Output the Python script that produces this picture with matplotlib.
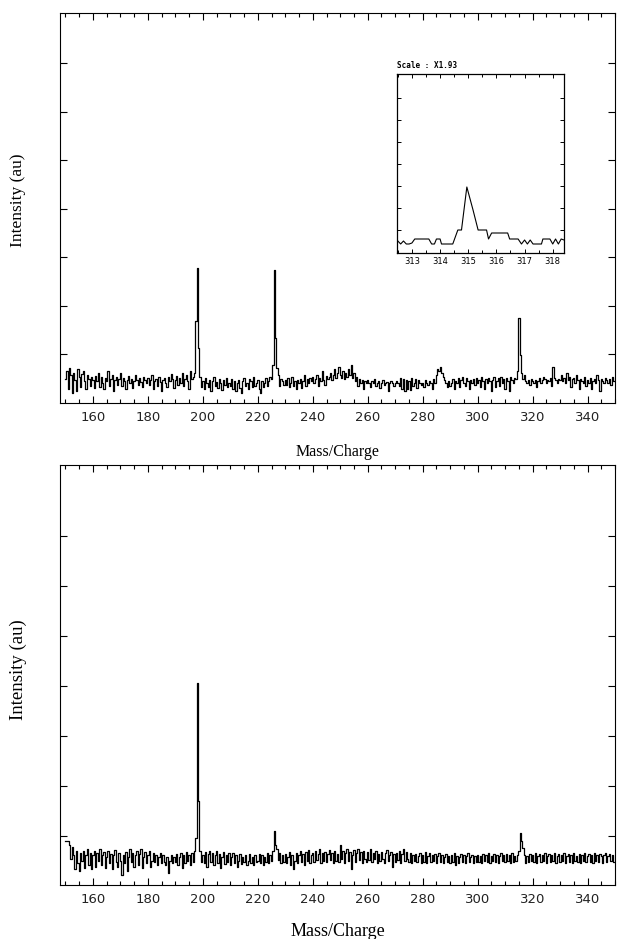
import numpy as np
import matplotlib
matplotlib.use("Agg")
import matplotlib.pyplot as plt

# m/z grid, 0.5 steps from 150 to 349.5
mz = np.arange(150, 350, 0.5)

# upper spectrum (intensity above baseline, arbitrary units), one row per 10 m/z
top_rows = [
    [4, 12, -6, 15, 8, -10, 10, 3, -8, 14, 6, -4, 9, 12, 2, -6, 8, 4, -3, 6],        # 150
    [3, -5, 7, 2, 10, -4, 6, 0, -6, 5, 2, 12, -3, 4, 8, -8, 3, 6, -2, 4],           # 160
    [10, -3, 5, 2, -6, 3, 7, 0, 4, -5, 2, 8, 3, -2, 5, 1, -4, 6, 3, 0],             # 170
    [5, -2, 3, 8, -6, 2, 4, -3, 6, 1, -8, 3, 5, 0, -4, 6, 2, 9, 4, -5],             # 180
    [3, 7, -2, 5, 0, 10, -3, 4, 8, 2, -6, 12, 4, 6, 10, 62, 115, 35, 6, -4],        # 190
    [2, -6, 5, 0, -4, 3, -8, 2, 6, -3, 1, -5, 4, 0, -7, 3, -2, 5, -4, 0],           # 200
    [-3, 4, -6, 2, -8, 0, 3, -5, -10, 2, 5, -3, 0, -6, 4, 2, -4, 6, -3, 0],         # 210
    [3, -6, -10, 2, -4, 0, 5, -3, 2, 6, 4, 18, 113, 45, 15, 8, -3, 4, 2, -2],       # 220
    [3, -2, 5, -4, 0, 6, -3, 2, -6, 3, 0, 4, -5, 2, 8, -3, 4, 0, 5, 2],             # 230
    [6, 0, 4, 8, -3, 5, 2, 12, 3, -2, 7, 4, 6, 10, 3, 8, 14, 5, 10, 16],            # 240
    [8, 5, 12, 4, 10, 6, 14, 8, 18, 5, 10, 2, 6, -3, 4, 0, 3, -6, 2, 0],            # 250
    [3, 0, -4, 2, 0, 4, -3, 0, 2, -5, 0, 3, -2, 0, 1, -8, 0, 2, 0, -3],             # 260
    [0, 2, 0, -3, 5, -6, 4, -8, 3, -6, 2, -7, 5, -3, 0, 4, -5, 3, 0, -2],           # 270
    [0, -4, 3, 0, -2, 2, 0, -6, 4, 0, 8, 14, 12, 16, 10, 6, 3, 0, -4, 2],           # 280
    [-3, 0, 4, -6, 2, 0, 5, -4, 3, 6, 0, -3, 5, 2, -6, 3, 0, 4, -2, 5],             # 290
    [0, 3, -4, 6, 2, -6, 4, 0, 5, 2, -8, 3, 6, -4, 2, 5, -3, 6, 0, 4],              # 300
    [-6, 5, 2, -8, 6, 3, 0, 5, 4, 12, 65, 28, 10, 4, 8, 2, 0, 3, -2, 4],            # 310
    [2, 0, 3, -4, 2, 5, 0, 3, 6, 4, 0, 3, 2, 5, -3, 16, 5, 3, 0, 4],                # 320
    [3, 8, 2, 5, 0, 10, 3, 6, -4, 4, 5, 0, 8, 3, -6, 4, 2, 0, 6, -3],               # 330
    [3, 0, 5, -6, 2, 4, 0, 8, 3, -8, 4, 2, 0, 5, 3, 0, 4, -2, 6, 2],                # 340
]

# lower spectrum
bot_rows = [
    [22, 22, 22, 18, 4, 16, 8, -6, 12, 0, -8, 10, 2, 12, -5, 8, 14, -2, 10, -6],    # 150
    [8, 12, -4, 10, 2, 14, -2, 8, 11, -5, 6, 12, 0, 9, -6, 8, 13, 1, -4, 10],       # 160
    [2, -12, 8, 0, 11, -8, 6, 14, 1, 10, -4, 8, 12, -2, 9, 14, -5, 6, 11, 0],       # 170
    [8, 12, -4, 2, 10, 1, 8, -2, 6, 10, 0, 8, 1, -2, 6, -10, 2, 8, 0, 6],           # 180
    [1, 9, -2, 6, 10, -5, 8, 0, 11, 2, 8, -2, 10, 1, 12, 25, 180, 62, 12, 1],       # 190
    [8, 0, 11, -4, 9, 12, 1, 10, -2, 8, 12, 0, 9, -5, 6, 11, -1, 8, 1, 10],         # 200
    [-2, 6, 10, 0, 8, -4, 2, 9, -1, 6, 1, 8, -2, 2, 9, 0, 6, -2, 8, 1],             # 210
    [2, 9, 0, 8, -2, 6, 1, 10, 0, 8, 2, 12, 32, 18, 14, 3, 10, 0, 8, 1],            # 220
    [9, 0, 6, 11, -2, 8, -6, 2, 10, 0, 8, 12, 1, 9, -2, 11, 2, 13, 0, 8],           # 230
    [10, 1, 12, 3, 9, 14, 0, 10, 2, 11, 1, 9, 13, 3, 10, 0, 12, 2, 9, 1],           # 240
    [18, 4, 12, 0, 10, 14, 2, 11, -6, 8, 13, 1, 10, 14, 3, 11, 0, 12, 4, 1],        # 250
    [11, 3, 14, 1, 10, 4, 12, 0, 9, 2, 11, 4, 0, 10, 13, 2, 8, 11, -4, 9],          # 260
    [1, 10, 3, 12, 0, 9, 14, 2, 11, 4, 1, 10, 0, 8, 2, 9, 1, 7, 10, 0],             # 270
    [8, 1, 11, 0, 7, 10, 1, 8, 2, 9, 0, 7, 10, 1, 8, 0, 6, 9, 1, 7],                # 280
    [0, 8, 1, 10, -2, 7, 0, 6, 9, 1, 8, 0, 7, 10, 1, 6, 8, 0, 7, 1],                # 290
    [8, 1, 7, 0, 9, 2, 8, 1, 10, 0, 7, 2, 9, 1, 8, 0, 7, 10, 2, 8],                 # 300
    [1, 9, 2, 8, 0, 10, 1, 7, 2, 8, 12, 30, 22, 15, 8, 0, 7, 1, 9, 2],              # 310
    [8, 1, 10, 0, 7, 9, 1, 8, 2, 10, 0, 7, 9, 1, 8, 2, 10, 0, 7, 9],                # 320
    [1, 8, 2, 10, 0, 7, 9, 1, 8, 0, 10, 2, 7, 1, 9, 0, 8, 2, 10, 1],                # 330
    [7, 9, 1, 8, 0, 10, 2, 8, 1, 9, 7, 0, 8, 10, 1, 7, 9, 2, 8, 1],                 # 340
]

# zoomed view of the m/z 315 peak
inset_mz = [312.5, 312.6, 312.7, 312.8, 312.9, 313.0, 313.1, 313.6, 313.7, 313.8,
            313.87, 314.0, 314.05, 314.45, 314.63, 314.76, 314.95, 315.17, 315.35, 315.65,
            315.72, 315.83, 316.4, 316.47, 316.77, 316.89, 317.0, 317.1, 317.2, 317.3,
            317.42, 317.6, 317.65, 317.9, 318.0, 318.1, 318.2, 318.3, 318.4]
inset_int = [12, 9, 12, 9, 9, 10, 14, 14, 9, 9,
             14, 14, 9, 9, 23, 23, 66, 43, 23, 23,
             14, 20, 20, 14, 14, 9, 13, 9, 13, 9,
             9, 9, 14, 14, 9, 14, 9, 14, 13]

top_int = np.concatenate(top_rows)
bot_int = np.concatenate(bot_rows)

serif = ['Liberation Serif', 'DejaVu Serif']

fig = plt.figure(figsize=(6.17, 9.39), dpi=100)


def style_axes(ax, yticks):
    ax.set_xlim(148, 350)
    ax.set_xticks(range(160, 341, 20))
    ax.set_xticks(range(150, 351, 5), minor=True)
    ax.set_yticks(yticks)
    ax.tick_params(axis='both', which='both', direction='in', top=True, right=True,
                   labelleft=False, width=0.8, color='black')
    ax.tick_params(axis='x', which='major', length=5, labelsize=9.5, pad=6,
                   labelcolor='#222222')
    ax.tick_params(axis='x', which='minor', length=3)
    ax.tick_params(axis='y', length=5)
    for s in ax.spines.values():
        s.set_linewidth(0.8)


# upper spectrum
ax1 = fig.add_axes([60 / 617, 1 - 403 / 939, 555 / 617, 390 / 939])
ax1.plot(mz, top_int, color='black', lw=0.9, drawstyle='steps-mid')
ax1.set_ylim(-20, 370)
style_axes(ax1, [29, 77, 126, 174, 223, 271, 320])
ax1.set_xlabel('Mass/Charge', family=serif, fontsize=11.5, labelpad=14)
fig.text(18 / 617, 1 - 200 / 939, 'Intensity (au)', family=serif, fontsize=12.5,
         rotation=90, ha='center', va='center')

# inset
axi = fig.add_axes([397 / 617, 1 - 253 / 939, 167 / 617, 179 / 939])
axi.plot(inset_mz, inset_int, color='black', lw=0.8)
axi.set_xlim(312.47, 318.4)
axi.set_ylim(0, 179)
axi.set_xticks(range(313, 319))
axi.set_xticks(np.arange(312.5, 318.5, 0.5), minor=True)
axi.set_yticks([23, 45, 67, 89, 111, 133, 155])
axi.tick_params(axis='both', which='both', direction='in', top=True, right=True,
                labelleft=False, width=0.7, length=3, labelsize=6, pad=3)
axi.tick_params(which='minor', length=2)
for s in axi.spines.values():
    s.set_linewidth(0.9)
axi.text(0.0, 1.025, 'Scale : X1.93', transform=axi.transAxes, fontsize=5.5,
         family='DejaVu Sans Mono', weight='bold', ha='left', va='bottom')

# lower spectrum
ax2 = fig.add_axes([60 / 617, 1 - 885 / 939, 555 / 617, 420 / 939])
ax2.plot(mz, bot_int, color='black', lw=0.9, drawstyle='steps-mid')
ax2.set_ylim(-22, 398)
style_axes(ax2, [27, 77, 127, 177, 227, 277, 327])
ax2.set_xlabel('Mass/Charge', family=serif, fontsize=13, labelpad=12)
fig.text(18 / 617, 1 - 670 / 939, 'Intensity (au)', family=serif, fontsize=13.5,
         rotation=90, ha='center', va='center')

plt.savefig('out.png', dpi=100)
plt.close()
